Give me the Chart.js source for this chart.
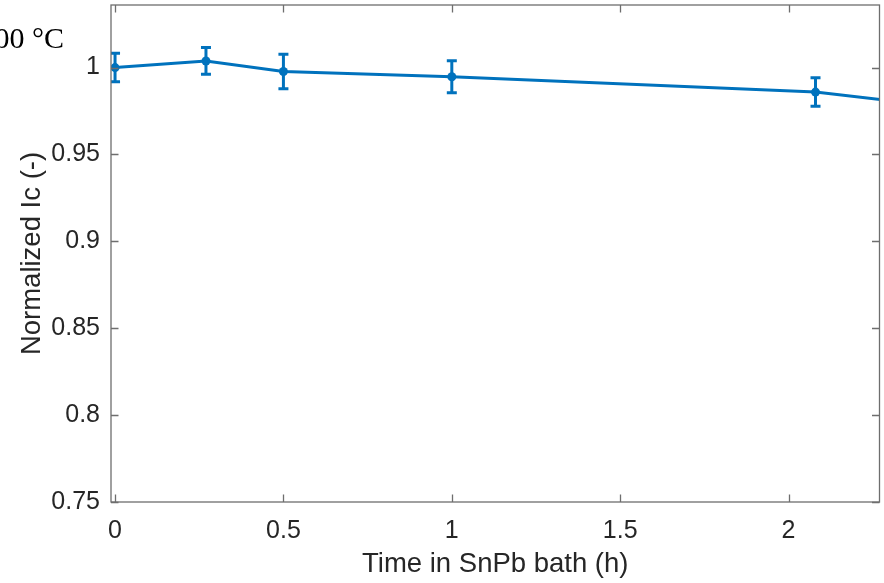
<!DOCTYPE html>
<html>
<head>
<meta charset="utf-8">
<script src="https://cdn.jsdelivr.net/npm/chart.js@4"></script>
<style>
  html, body { margin: 0; padding: 0; background: #fff; }
  #wrap { width: 884px; height: 583px; position: relative; }
</style>
</head>
<body>
<div id="wrap"><canvas id="chart"></canvas></div>
<script>
// ===== Data =====
const timeHours = [0, 0.27, 0.5, 1, 2.08, 2.5];
const normIc = [1.000, 1.0038, 0.9977, 0.9947, 0.9859, 0.9764];
const icError = [0.0082, 0.0077, 0.0099, 0.0092, 0.0082, 0.0080];
const xTicks = [0, 0.5, 1, 1.5, 2];
const yTicks = [0.75, 0.8, 0.85, 0.9, 0.95, 1];

const colors = {
    line: '#0072BD',
    text: '#262626',
    box: '#6e6e6e',
};

// error bars drawn through the scales, clipped to the plot box
const errorBars = {
    id: 'errorBars',
    afterDatasetsDraw(chart) {
        const { ctx, chartArea, scales: { x, y } } = chart;
        ctx.save();
        ctx.beginPath();
        ctx.rect(chartArea.left, chartArea.top, chartArea.right - chartArea.left, chartArea.bottom - chartArea.top);
        ctx.clip();
        ctx.strokeStyle = colors.line;
        ctx.lineWidth = 3;
        timeHours.forEach((t, i) => {
            const px = x.getPixelForValue(t);
            const top = y.getPixelForValue(normIc[i] + icError[i]);
            const bot = y.getPixelForValue(normIc[i] - icError[i]);
            ctx.beginPath();
            ctx.moveTo(px, top); ctx.lineTo(px, bot);
            ctx.moveTo(px - 5, top); ctx.lineTo(px + 5, top);
            ctx.moveTo(px - 5, bot); ctx.lineTo(px + 5, bot);
            ctx.stroke();
        });
        ctx.restore();
    }
};

// MATLAB style box with inward ticks on all four sides
const boxTicks = {
    id: 'boxTicks',
    afterDraw(chart) {
        const { ctx, chartArea: a, scales: { x, y } } = chart;
        const len = 7.5;
        ctx.save();
        ctx.strokeStyle = colors.box;
        ctx.lineWidth = 1.3;
        ctx.strokeRect(a.left, a.top, a.right - a.left, a.bottom - a.top);
        ctx.beginPath();
        xTicks.forEach(v => {
            const px = Math.round(x.getPixelForValue(v)) + 0.5;
            ctx.moveTo(px, a.bottom); ctx.lineTo(px, a.bottom - len);
            ctx.moveTo(px, a.top); ctx.lineTo(px, a.top + len);
        });
        yTicks.forEach(v => {
            const py = Math.round(y.getPixelForValue(v)) + 0.5;
            ctx.moveTo(a.left, py); ctx.lineTo(a.left + len, py);
            ctx.moveTo(a.right, py); ctx.lineTo(a.right - len, py);
        });
        ctx.stroke();

        // clipped annotation at top-left
        ctx.fillStyle = '#000';
        ctx.font = "30px 'Liberation Serif', serif";
        ctx.textAlign = 'right';
        ctx.textBaseline = 'alphabetic';
        ctx.fillText('00 °C', 64, 48);
        ctx.restore();
    }
};

Chart.defaults.font.family = "'Liberation Sans', Arial, sans-serif";
Chart.defaults.color = colors.text;

new Chart(document.getElementById('chart'), {
    type: 'line',
    data: {
        datasets: [{
            data: timeHours.map((t, i) => ({ x: t, y: normIc[i] })),
            borderColor: colors.line,
            backgroundColor: colors.line,
            borderWidth: 3,
            pointRadius: 4.5,
            pointBorderWidth: 0,
            tension: 0,
        }]
    },
    options: {
        responsive: true,
        maintainAspectRatio: false,
        animation: false,
        layout: { padding: { top: 5, right: 2, left: 0, bottom: 0 } },
        plugins: {
            legend: { display: false },
            tooltip: { enabled: false },
        },
        scales: {
            x: {
                type: 'linear',
                min: -0.012,
                max: 2.27,
                afterFit: (s) => { s.height = 81; s.paddingLeft = 0; s.paddingRight = 0; },
                afterBuildTicks: (s) => { s.ticks = xTicks.map(v => ({ value: v })); },
                grid: { display: false, drawTicks: false },
                border: { display: false },
                ticks: {
                    font: { size: 25 },
                    padding: 14,
                    maxRotation: 0,
                    callback: (v) => String(v),
                },
                title: {
                    display: true,
                    text: 'Time in SnPb bath (h)',
                    font: { size: 27.5 },
                    padding: { top: 0, bottom: 2 },
                }
            },
            y: {
                min: 0.75,
                max: 1.036,
                afterFit: (s) => { s.width = 111; s.paddingTop = 0; s.paddingBottom = 0; },
                afterBuildTicks: (s) => { s.ticks = yTicks.map(v => ({ value: v })); },
                grid: { display: false, drawTicks: false },
                border: { display: false },
                ticks: {
                    font: { size: 25 },
                    padding: 11,
                    callback: (v) => String(v),
                },
                title: {
                    display: true,
                    text: 'Normalized Ic (-)',
                    font: { size: 27.5 },
                    padding: { top: 16, bottom: 0 },
                }
            }
        }
    },
    plugins: [errorBars, boxTicks]
});
</script>
</body>
</html>
